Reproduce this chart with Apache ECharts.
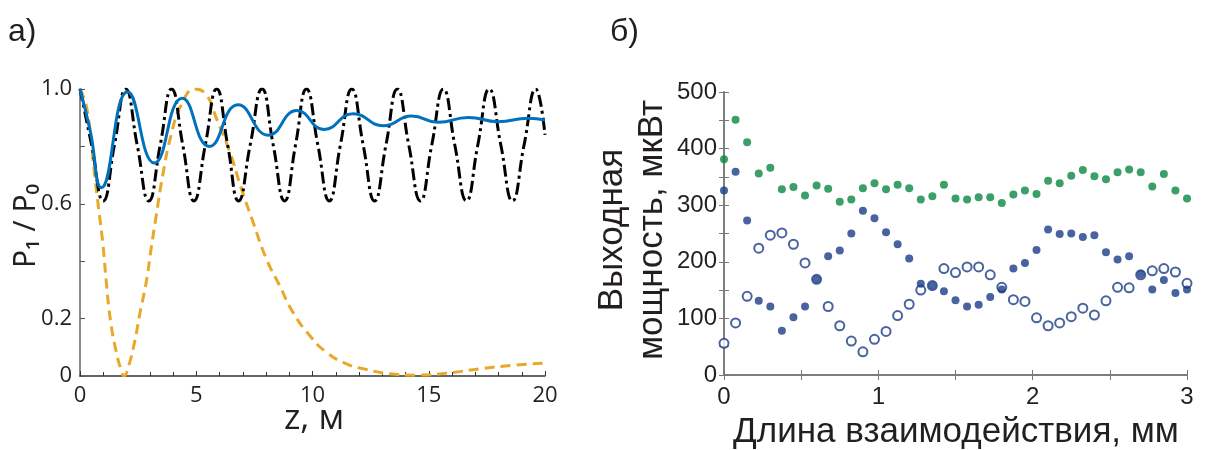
<!DOCTYPE html>
<html>
<head>
<meta charset="utf-8">
<script src="https://cdn.jsdelivr.net/npm/echarts@6/dist/echarts.min.js"></script>
<style>
  html, body { margin: 0; padding: 0; background: #fff; }
  #chart { width: 1206px; height: 450px; }
</style>
</head>
<body>
<div id="chart"></div>
<script>
// а) P1/P0 against z, m (extrema and crossings)
const curveBlack = [
  [0, 1.0], [0.5, 0.805], [1.0, 0.61], [1.48, 0.805], [1.97, 1.0], [2.46, 0.805], [2.96, 0.61],
  [3.45, 0.805], [3.94, 1.0], [4.42, 0.805], [4.9, 0.61], [5.39, 0.805], [5.88, 1.0], [6.35, 0.805],
  [6.82, 0.61], [7.32, 0.805], [7.83, 1.0], [8.31, 0.805], [8.8, 0.61], [9.27, 0.805], [9.74, 1.0],
  [10.23, 0.805], [10.72, 0.61], [11.2, 0.805], [11.69, 1.0], [12.18, 0.805], [12.67, 0.61],
  [13.16, 0.805], [13.65, 1.0], [14.14, 0.805], [14.64, 0.61], [15.13, 0.805], [15.63, 1.0],
  [16.12, 0.805], [16.62, 0.61], [17.11, 0.805], [17.6, 1.0], [18.1, 0.805], [18.6, 0.61],
  [19.1, 0.805], [19.6, 1.0], [20, 0.84]
];
const curveBlue = [
  [0, 1.0], [0.45, 0.85], [0.92, 0.656], [2.05, 0.99], [3.2, 0.742], [4.4, 0.968], [5.56, 0.80],
  [6.8, 0.945], [8.1, 0.839], [9.33, 0.925], [10.5, 0.859], [11.75, 0.914], [13.05, 0.872],
  [14.26, 0.906], [15.4, 0.884], [16.7, 0.901], [17.98, 0.886], [19.27, 0.898], [20, 0.892]
];
const curveOrange = [
  [0, 1.0], [0.3, 0.93], [0.63, 0.70], [0.8, 0.584], [0.99, 0.456], [1.13, 0.328], [1.32, 0.188],
  [1.56, 0.084], [1.75, 0.026], [1.9, 0.0], [2.06, 0.026], [2.35, 0.119], [2.56, 0.212],
  [2.85, 0.328], [3.06, 0.444], [3.28, 0.56], [3.56, 0.70], [3.92, 0.84], [4.35, 0.944],
  [4.95, 1.0], [5.44, 0.979], [5.87, 0.897], [6.44, 0.781], [6.94, 0.653], [7.44, 0.537],
  [8.01, 0.409], [8.58, 0.316], [9.15, 0.223], [9.87, 0.142], [10.58, 0.084], [11.44, 0.043],
  [12.3, 0.023], [13.33, 0.008], [14.5, 0.003], [15.77, 0.01], [17.2, 0.025], [18.6, 0.037],
  [20, 0.045]
];
const pTickLabels = ['0', '0.2', '0.6', '1.0'];

// б) output power (uW) against interaction length (mm)
const lengthMm = [0, 0.075, 0.15, 0.225, 0.3, 0.375, 0.45, 0.525, 0.6, 0.675, 0.75, 0.825, 0.9,
  0.975, 1.05, 1.125, 1.2, 1.275, 1.35, 1.425, 1.5, 1.575, 1.65, 1.725, 1.8, 1.875, 1.95, 2.025,
  2.1, 2.175, 2.25, 2.325, 2.4, 2.475, 2.55, 2.625, 2.7, 2.775, 2.85, 2.925, 3.0];
const powerGreen = [381, 451, 411, 356, 366, 328, 332, 317, 335, 329, 306, 310, 330, 339, 328,
  336, 330, 310, 316, 336, 312, 310, 314, 314, 304, 319, 326, 320, 343, 339, 352, 362, 351, 346,
  358, 363, 358, 333, 355, 326, 312];
const powerFilled = [326, 359, 273, 131, 121, 78, 102, 121, 169, 210, 220, 250, 290, 277, 252,
  231, 206, 161, 158, 148, 132, 121, 124, 138, 151, 188, 198, 221, 257, 249, 250, 244, 247, 217,
  204, 210, 178, 151, 168, 145, 151];
const powerHollow = [56, 92, 139, 224, 247, 251, 231, 198, 169, 121, 87, 60, 41, 63, 77, 105, 125,
  150, 158, 188, 181, 191, 191, 177, 155, 133, 130, 101, 87, 92, 103, 118, 106, 131, 155, 154, 177,
  184, 188, 182, 162];

const textColor = '#231f20';
const pair = (xs, ys) => xs.map((x, i) => [x, ys[i]]);

let myChart = echarts.init(document.getElementById('chart'));

let boxAxis = {
  axisLine: { show: true, lineStyle: { color: '#777', width: 1.5 } },
  axisTick: { show: true, inside: true, length: 5, lineStyle: { color: '#777' } },
  minorTick: { show: true, splitNumber: 2, length: 5, lineStyle: { color: '#777' } },
  splitLine: { show: false },
  axisLabel: { fontFamily: 'Liberation Sans', fontSize: 24, color: textColor }
};

let option = {
  animation: false,
  backgroundColor: '#fff',
  grid: [
    { left: 80, top: 89, width: 465, height: 287 },
    { left: 724, top: 92, width: 463, height: 283 }
  ],
  xAxis: [
    {
      gridIndex: 0, type: 'value', min: 0, max: 20, interval: 5,
      axisLine: { lineStyle: { color: '#333', width: 1.5 } },
      axisTick: { inside: true, length: 5, lineStyle: { color: '#333' } },
      minorTick: { show: true, splitNumber: 5, length: 4, lineStyle: { color: '#333' } },
      splitLine: { show: false },
      axisLabel: { margin: 9, fontFamily: 'Open Sans', fontSize: 22, color: textColor }
    },
    Object.assign({}, boxAxis, {
      gridIndex: 1, type: 'value', min: 0, max: 3, interval: 1,
      axisLabel: Object.assign({}, boxAxis.axisLabel, { margin: 10 })
    }),
    Object.assign({}, boxAxis, {
      gridIndex: 1, type: 'value', min: 0, max: 3, interval: 1, position: 'top',
      axisLabel: { show: false }
    })
  ],
  yAxis: [
    {
      gridIndex: 0, type: 'value', min: 0, max: 1, interval: 0.2,
      axisLine: { show: true, lineStyle: { color: '#8a8a8a', width: 2 } },
      axisTick: { show: true, inside: true, length: 5, lineStyle: { color: '#555' } },
      splitLine: { show: false },
      axisLabel: {
        margin: 8, fontFamily: 'Open Sans', fontSize: 22, color: textColor,
        formatter: function (v) {
          let s = v === 0 ? '0' : v.toFixed(1);
          return pTickLabels.indexOf(s) >= 0 ? s : '';
        }
      }
    },
    Object.assign({}, boxAxis, {
      gridIndex: 1, type: 'value', min: 0, max: 500, interval: 100,
      axisLabel: Object.assign({}, boxAxis.axisLabel, { margin: 7 })
    }),
    Object.assign({}, boxAxis, {
      gridIndex: 1, type: 'value', min: 0, max: 500, interval: 100, position: 'right',
      axisLabel: { show: false }
    })
  ],
  series: [
    {
      type: 'line', xAxisIndex: 0, yAxisIndex: 0, data: curveOrange, smooth: 0.5,
      showSymbol: false, lineStyle: { color: '#e9a82a', width: 3, type: [10, 6] }
    },
    {
      type: 'line', xAxisIndex: 0, yAxisIndex: 0, data: curveBlack, smooth: 0.5,
      showSymbol: false, lineStyle: { color: '#000', width: 3, type: [12, 4, 3, 4] }
    },
    {
      type: 'line', xAxisIndex: 0, yAxisIndex: 0, data: curveBlue, smooth: 0.5,
      showSymbol: false, lineStyle: { color: '#0072bd', width: 3 }
    },
    {
      type: 'scatter', xAxisIndex: 1, yAxisIndex: 1, data: pair(lengthMm, powerHollow),
      symbolSize: 9, clip: false,
      itemStyle: { color: '#fff', borderColor: '#1a3c87', borderWidth: 2 }
    },
    {
      type: 'scatter', xAxisIndex: 1, yAxisIndex: 1, data: pair(lengthMm, powerFilled),
      symbolSize: 8, clip: false, itemStyle: { color: '#1a3c87' }
    },
    {
      type: 'scatter', xAxisIndex: 1, yAxisIndex: 1, data: pair(lengthMm, powerGreen),
      symbolSize: 8, clip: false, itemStyle: { color: '#0a8742' }
    }
  ],
  graphic: [
    { type: 'text', x: 8, y: 16, style: { text: 'а)', font: '32px "Liberation Sans"', fill: textColor } },
    { type: 'text', x: 610, y: 16, style: { text: 'б)', font: '32px "Liberation Sans"', fill: textColor } },
    {
      type: 'text', x: 26, y: 226, rotation: Math.PI / 2,
      style: { text: 'P₁ / P₀', font: '30px "Noto Sans"', fill: textColor, align: 'center', verticalAlign: 'middle' }
    },
    {
      type: 'text', x: 314, y: 419,
      style: { text: 'z, м', font: '35px "Open Sans"', fill: textColor, align: 'center', verticalAlign: 'middle' }
    },
    {
      type: 'text', x: 632, y: 230, rotation: Math.PI / 2,
      style: {
        text: 'Выходная\nмощность, мкВт', font: '35px "Liberation Sans"', lineHeight: 40,
        fill: textColor, align: 'center', verticalAlign: 'middle'
      }
    },
    {
      type: 'text', x: 956, y: 432,
      style: { text: 'Длина взаимодействия, мм', font: '35px "Liberation Sans"', fill: textColor, align: 'center', verticalAlign: 'middle' }
    }
  ]
};

myChart.setOption(option);
</script>
</body>
</html>
